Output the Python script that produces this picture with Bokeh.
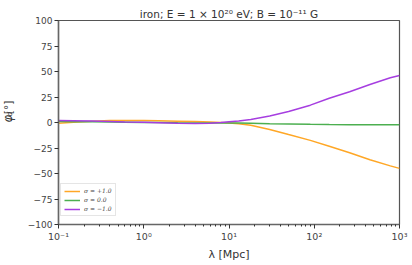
from bokeh.plotting import figure
from bokeh.layouts import row
from bokeh.models import (FixedTicker, CustomJSTickFormatter, Label, Legend, LegendItem,
                          Range1d, ColumnDataSource, Title)
from bokeh.embed import file_html
from bokeh.resources import INLINE

# data
lam = [0.1, 0.15, 0.25, 0.4, 0.6, 1, 1.5, 2.5, 4, 6, 8, 10, 13, 18, 30, 50, 90, 150, 260, 450, 780, 1000]
phi_plus = [-0.8, 0.3, 1.3, 1.9, 2.0, 1.9, 1.6, 1.3, 0.9, 0.4, 0.0, -0.6, -1.3, -2.8, -6.8, -11.8,
            -17.5, -23.3, -29.6, -36.5, -42.5, -45.0]
phi_zero = [0.9, 0.8, 0.7, 0.5, 0.3, 0.1, -0.1, -0.3, -0.4, -0.4, -0.4, -0.5, -0.6, -0.8, -1.2, -1.5,
            -1.8, -2.0, -2.1, -2.2, -2.3, -2.3]
phi_minus = [2.0, 1.8, 1.5, 1.0, 0.6, 0.2, -0.2, -0.7, -1.0, -0.7, 0.0, 0.7, 1.4, 3.0, 6.3, 10.8,
             17.0, 23.8, 30.2, 37.2, 43.8, 46.0]
series_labels = ["σ = +1.0", "σ = 0.0", "σ = −1.0"]
series_colors = ["#ffa726", "#4caf50", "#a63ee0"]
x_major = [0.1, 1, 10, 100, 1000]
y_major = [-100, -75, -50, -25, 0, 25, 50, 75, 100]
title_text = "iron; E = 1 × 10²⁰ eV; B = 10⁻¹¹ G"
x_label = "λ [Mpc]"

W_LEFT = 20
H = 265

# narrow figure that carries the rotated y-axis label (φ with subscript d)
lf = figure(width=W_LEFT, height=H, output_backend="svg", toolbar_location=None,
            x_range=Range1d(0, W_LEFT), y_range=Range1d(0, H),
            min_border=0, min_border_left=0, min_border_right=0, min_border_top=0,
            min_border_bottom=0)
lf.axis.visible = False
lf.grid.visible = False
lf.outline_line_color = None
lf.background_fill_color = "white"
lf.border_fill_color = "white"
common = dict(angle=1.5708, text_color="#333333", text_align="center", text_baseline="middle")
lf.add_layout(Label(x=7.5, y=H - 127.5, text="φ", text_font="DejaVu Sans", text_font_size="11.5px",
                    text_font_style="italic", **common))
lf.add_layout(Label(x=9.5, y=H - 121.5, text="d", text_font="DejaVu Sans", text_font_size="7px",
                    text_font_style="italic", **common))
lf.add_layout(Label(x=7.5, y=H - 113, text="[°]", text_font="DejaVu Sans", text_font_size="10.5px",
                    **common))

p = figure(width=412 - W_LEFT, height=H, x_axis_type="log", output_backend="svg",
           toolbar_location=None, x_range=Range1d(0.1, 1000), y_range=Range1d(-100, 100),
           min_border_left=58 - W_LEFT, min_border_right=13, min_border_top=20, min_border_bottom=41)
p.title = None
p.grid.visible = False
p.outline_line_color = "#555555"
p.outline_line_width = 1.2
p.background_fill_color = "white"
p.border_fill_color = "white"

minor = [m * d for d in [0.1, 1, 10, 100] for m in range(2, 10)]
p.xaxis.ticker = FixedTicker(ticks=x_major, minor_ticks=minor)
p.yaxis.ticker = FixedTicker(ticks=y_major, minor_ticks=[])
p.xaxis.formatter = CustomJSTickFormatter(code="""
const sup = {'-':'⁻','0':'⁰','1':'¹','2':'²','3':'³','4':'⁴','5':'⁵','6':'⁶','7':'⁷','8':'⁸','9':'⁹'};
const e = Math.round(Math.log10(tick));
return '10' + String(e).split('').map(c => sup[c]).join('');
""")
p.yaxis.formatter = CustomJSTickFormatter(code="return String(tick).replace('-', '−');")

for ax in [p.xaxis[0], p.yaxis[0]]:
    ax.axis_line_color = "#666666"
    ax.axis_line_width = 1.5
    ax.major_tick_line_color = "#333333"
    ax.minor_tick_line_color = "#333333"
    ax.major_tick_in = 0
    ax.major_tick_out = 4
    ax.minor_tick_in = 0
    ax.minor_tick_out = 2
    ax.major_label_text_font = "DejaVu Sans"
    ax.major_label_text_font_size = "9px"
    ax.major_label_text_color = "#444444"
    ax.major_label_standoff = 2
p.xaxis.major_label_text_font_size = "9.5px"

p.xaxis.axis_label = x_label
p.xaxis.axis_label_text_font = "DejaVu Sans"
p.xaxis.axis_label_text_font_size = "11px"
p.xaxis.axis_label_text_font_style = "normal"
p.xaxis.axis_label_text_color = "#333333"
p.xaxis.axis_label_standoff = 3

src = ColumnDataSource(dict(lam=lam, a=phi_plus, b=phi_zero, c=phi_minus))
items = []
for col, lab, colr in zip(["a", "b", "c"], series_labels, series_colors):
    r = p.line("lam", col, source=src, line_color=colr, line_width=1.5)
    items.append(LegendItem(label=lab, renderers=[r]))

leg = Legend(items=items, location=(2, 8), label_text_font="DejaVu Serif",
             label_text_font_size="6px", label_text_font_style="italic",
             glyph_width=16, glyph_height=6, label_height=6, spacing=2,
             padding=3, margin=0, label_standoff=4,
             border_line_color="#cccccc", border_line_width=0.8, background_fill_alpha=0.9)
p.add_layout(leg)

p.add_layout(Title(text=title_text, align="center", text_font="DejaVu Sans",
                   text_font_size="10.5px", text_font_style="normal", text_color="#333333",
                   standoff=2), "above")

layout = row(lf, p, spacing=0)
open("out.html", "w").write(file_html(layout, INLINE))
